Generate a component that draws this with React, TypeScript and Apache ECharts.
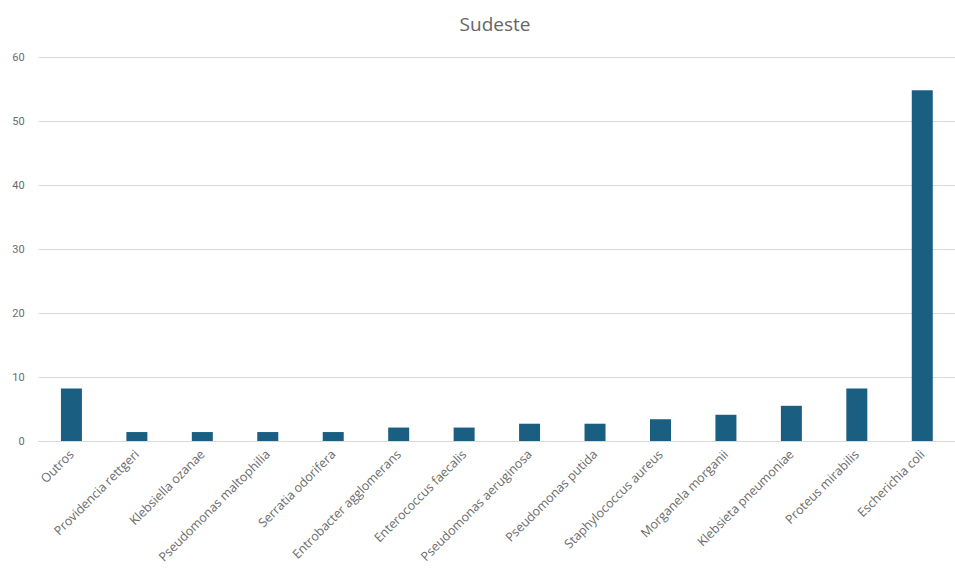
import React, { useEffect, useRef } from "react";
import * as echarts from "echarts";

const categories = [
  "Outros",
  "Providencia rettgeri",
  "Klebsiella ozanae",
  "Pseudomonas maltophilia",
  "Serratia odorifera",
  "Entrobacter agglomerans",
  "Enterococcus faecalis",
  "Pseudomonas aeruginosa",
  "Pseudomonas putida",
  "Staphylococcus aureus",
  "Morganela morganii",
  "Klebsieta pneumoniae",
  "Proteus mirabilis",
  "Escherichia coli",
];
const values = [8.2, 1.4, 1.4, 1.4, 1.4, 2.1, 2.1, 2.7, 2.7, 3.4, 4.1, 5.5, 8.2, 54.8];
const yTicks = [0, 10, 20, 30, 40, 50, 60];
const title = "Sudeste";

export default function App() {
  const ref = useRef<HTMLDivElement>(null);
  useEffect(() => {
    if (!ref.current) return;
    const chart = echarts.init(ref.current, undefined, { renderer: "svg" });
    chart.setOption({
      animation: false,
      backgroundColor: "#ffffff",
      title: {
        text: title,
        left: 490,
        textAlign: "center",
        top: 9,
        textStyle: { fontFamily: "Open Sans", fontSize: 19, fontWeight: "normal", color: "#666666" },
      },
      grid: { left: 38.7, top: 57, width: 925, height: 384, containLabel: false },
      xAxis: {
        type: "category",
        data: categories,
        axisLine: { show: true, lineStyle: { color: "#d9d9d9" } },
        axisTick: { show: false },
        axisLabel: {
          rotate: 45,
          interval: 0,
          margin: 11,
          fontFamily: "Open Sans",
          fontSize: 12.5,
          color: "#6b6b6b",
        },
      },
      yAxis: {
        type: "value",
        min: yTicks[0],
        max: yTicks[yTicks.length - 1],
        interval: 10,
        axisLine: { show: false },
        axisTick: { show: false },
        splitLine: { lineStyle: { color: "#d9d9d9" } },
        axisLabel: { fontFamily: "Roboto", fontSize: 11, color: "#6b6b6b", margin: 14 },
      },
      series: [
        {
          type: "bar",
          data: values,
          barWidth: 21,
          itemStyle: { color: "#1a5e82" },
        },
      ],
    });
    return () => chart.dispose();
  }, []);
  return (
    <div
      ref={ref}
      style={{ position: "absolute", left: 0, top: 0, width: 955, height: 568 }}
    />
  );
}
